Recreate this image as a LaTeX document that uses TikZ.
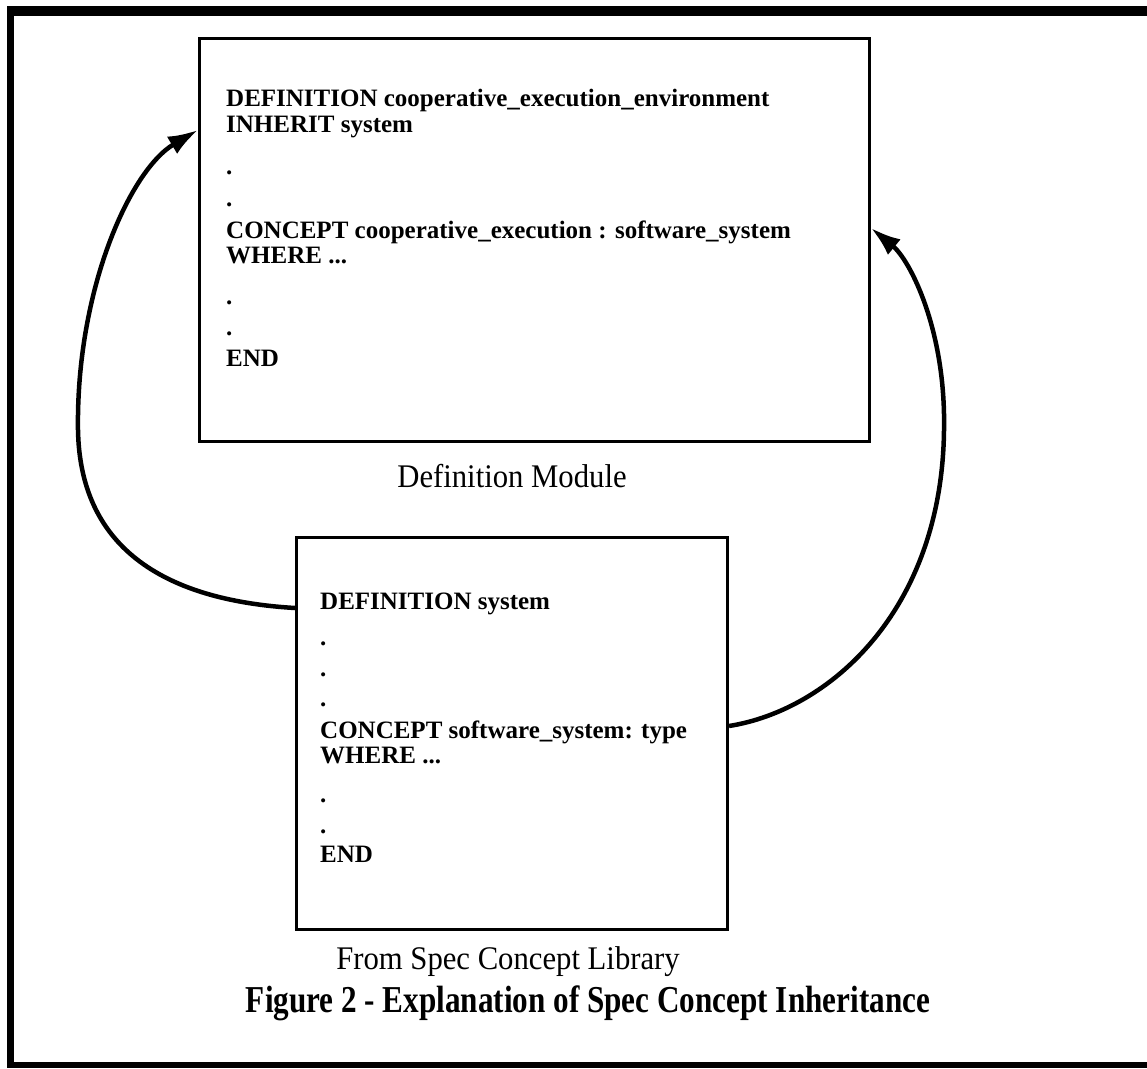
\documentclass[tikz,border=0pt]{standalone}
\usepackage{fontspec}
\setmainfont{Liberation Serif}
\newfontfamily\labelfont[FakeStretch=0.93]{Liberation Serif}
\newfontfamily\capfont[FakeStretch=0.82]{Liberation Serif}
\usetikzlibrary{arrows.meta}
\begin{document}
\begin{tikzpicture}[x=1pt,y=-1pt,
  boxstyle/.style={draw, line width=3pt, inner sep=0pt, anchor=north west},
  code/.style={anchor=base west, inner sep=0pt, font=\fontsize{25}{25}\selectfont\bfseries},
  lbl/.style={anchor=base, inner sep=0pt, font=\labelfont\fontsize{33}{33}\selectfont},
  capstyle/.style={anchor=base, inner sep=0pt, font=\capfont\bfseries\fontsize{38}{38}\selectfont},
  inh/.style={line width=4.5pt, -{Latex[length=30pt,width=20pt]}},
]
\useasboundingbox (0,0) rectangle (1147,1068);
% outer frame (open at the right)
\draw[line width=10pt] (7,11) -- (1147,11);
\draw[line width=7pt] (10.5,6) -- (10.5,1068);
\draw[line width=6pt] (7,1065) -- (1147,1065);

% definition module box
\node[boxstyle, minimum width=670pt, minimum height=403pt] (def) at (198,37) {};
\node[code] (d1) at (226,106) {DEFINITION cooperative\_execution\_environment};
\node[code] (d2) at (226,132) {INHERIT system};
\node[code] (d3) at (226,174) {.};
\node[code] (d4) at (226,206) {.};
\node[code] (d5) at (226,238) {CONCEPT cooperative\_execution : software\_system};
\node[code] (d6) at (226,263) {WHERE ...};
\node[code] (d7) at (226,304) {.};
\node[code] (d8) at (226,335) {.};
\node[code] (d9) at (226,366) {END};
\node[lbl] (deflbl) at (512,487) {Definition Module};

% library box
\node[boxstyle, minimum width=431pt, minimum height=392pt] (lib) at (295,536) {};
\node[code] (l1) at (320,609) {DEFINITION system};
\node[code] (l2) at (320,645) {.};
\node[code] (l3) at (320,676) {.};
\node[code] (l4) at (320,706) {.};
\node[code] (l5) at (320,738) {CONCEPT software\_system: type};
\node[code] (l6) at (320,763) {WHERE ...};
\node[code] (l7) at (320,802) {.};
\node[code] (l8) at (320,833) {.};
\node[code] (l9) at (320,862) {END};
\node[lbl] (liblbl) at (508,969) {From Spec Concept Library};

\node[capstyle] (cap) at (588,1012) {Figure 2 - Explanation of Spec Concept Inheritance};

% inheritance connectors
\draw[inh] ([yshift=-72pt]lib.north west) .. controls (160,600) and (80,545) .. (78,430)
  .. controls (76,290) and (130,170) .. ([yshift=-93pt]def.north west);
\draw[inh] ([yshift=-190pt]lib.north east) .. controls (830,710) and (942,610) .. (944,430)
  .. controls (946,330) and (910,260) .. ([yshift=-191pt]def.north east);
\end{tikzpicture}
\end{document}
